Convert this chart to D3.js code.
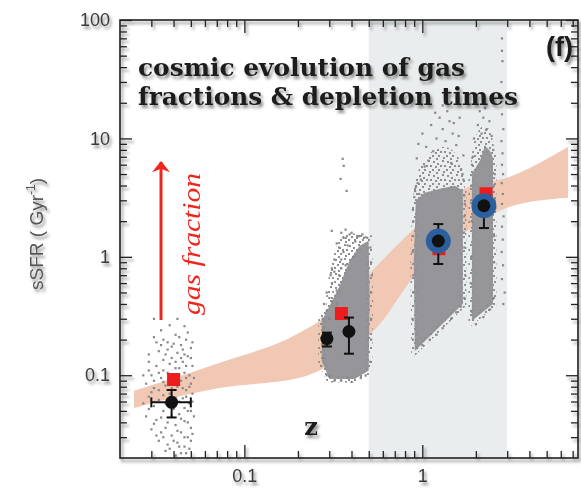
<!DOCTYPE html>
<html>
<head>
<meta charset="utf-8">
<script src="https://cdn.jsdelivr.net/npm/d3@7"></script>
<style>
body { margin: 0; background: #fff; }
</style>
</head>
<body>
<svg></svg>
<script>
// tick values
var xMinorTicks = [0.03,0.04,0.05,0.06,0.07,0.08,0.09,0.2,0.3,0.4,0.5,0.6,0.7,0.8,0.9,2,3,4,5,6,7]
var xMajorTicks = [0.1, 1]
var yMinorTicks = [0.03,0.04,0.05,0.06,0.07,0.08,0.09,0.2,0.3,0.4,0.5,0.6,0.7,0.8,0.9,
                   2,3,4,5,6,7,8,9,20,30,40,50,60,70,80,90]
var yMajorTicks = [0.1, 1, 10, 100]

// shaded redshift window
var shadeRange = [0.5, 3]

// model band (z, upper, lower sSFR)
var bandZ     = [0.024, 0.072, 0.204, 0.343, 0.576, 0.895, 1.73, 3.11, 6.6]
var bandUpper = [0.074, 0.127, 0.228, 0.385, 0.89,  1.72,  3.76, 4.75, 8.5]
var bandLower = [0.053, 0.078, 0.095, 0.137, 0.27,  0.68,  1.6,  2.65, 3.15]

// dense parts of the galaxy clouds [z, sSFR]
var denseClouds = [
    [[0.301,0.385],[0.343,0.569],[0.39,0.925],[0.4445,1.24],[0.4995,1.37],[0.506,0.425],[0.4995,0.109],[0.4165,0.093],[0.301,0.093],[0.272,0.132],[0.272,0.288]],
    [[0.907,0.16],[0.896,0.925],[0.919,2.975],[1.033,3.475],[1.255,3.76],[1.524,3.98],[1.691,3.61],[1.691,0.40]],
    [[1.90,0.288],[1.90,5.03],[2.108,6.48],[2.25,8.68],[2.40,7.87],[2.496,6.87],[2.496,0.40]]
]
var haloClouds = [
    [[0.92,2.9],[0.95,5.33],[1.102,7.5],[1.339,8.5],[1.585,7],[1.70,3.6]],
    [[1.92,4.8],[2.0,10.5],[2.25,13],[2.45,10.5],[2.5,6.8]],
    [[0.29,0.4],[0.31,0.9],[0.36,1.5],[0.45,1.55],[0.5,1.4],[0.4,1.0],[0.33,0.6]]
]

// individual galaxies [z, sSFR]
var galaxies = [
    // local sample
    [0.031,0.21],[0.034,0.24],[0.037,0.19],[0.041,0.22],[0.044,0.18],[0.047,0.2],[0.05,0.17],[0.033,0.16],
    [0.036,0.15],[0.039,0.14],[0.042,0.155],[0.045,0.13],[0.048,0.145],[0.051,0.12],[0.029,0.13],[0.032,0.12],
    [0.035,0.11],[0.038,0.125],[0.043,0.115],[0.046,0.105],[0.049,0.1],[0.03,0.1],[0.034,0.095],[0.04,0.1],
    [0.044,0.09],[0.05,0.085],[0.028,0.085],[0.031,0.078],[0.036,0.082],[0.047,0.075],[0.051,0.07],[0.029,0.066],
    [0.033,0.062],[0.038,0.07],[0.045,0.064],[0.049,0.058],[0.031,0.055],[0.035,0.05],[0.04,0.052],[0.043,0.047],
    [0.048,0.05],[0.052,0.045],[0.028,0.045],[0.032,0.042],[0.037,0.04],[0.041,0.038],[0.046,0.041],[0.05,0.036],
    [0.03,0.035],[0.034,0.033],[0.039,0.031],[0.044,0.033],[0.048,0.03],[0.033,0.028],[0.037,0.026],[0.042,0.027],
    [0.046,0.025],[0.05,0.028],[0.036,0.023],[0.044,0.022],[0.049,0.024],[0.031,0.3],[0.038,0.265],[0.046,0.26],
    [0.039,0.175],[0.035,0.135],[0.041,0.065],[0.027,0.058],[0.052,0.095],[0.046,0.15],[0.042,0.3],[0.027,0.1],
    [0.029,0.15],[0.032,0.19],[0.035,0.2],[0.04,0.185],[0.043,0.21],[0.048,0.23],[0.051,0.19],[0.034,0.18],
    [0.037,0.165],[0.045,0.165],[0.05,0.14],[0.041,0.13],[0.044,0.14],[0.047,0.12],[0.037,0.105],[0.041,0.115],
    [0.033,0.105],[0.029,0.11],[0.047,0.095],[0.043,0.1],[0.035,0.088],[0.038,0.09],[0.031,0.09],[0.049,0.08],
    [0.045,0.078],[0.033,0.075],[0.042,0.08],[0.039,0.078],[0.03,0.072],[0.035,0.068],[0.047,0.066],[0.051,0.06],
    [0.043,0.06],[0.036,0.058],[0.029,0.052],[0.046,0.053],[0.05,0.05],[0.039,0.045],[0.034,0.044],[0.044,0.043],
    [0.031,0.039],[0.048,0.04],[0.036,0.036],[0.042,0.034],[0.051,0.032],[0.032,0.031],[0.046,0.03],[0.04,0.028],
    [0.035,0.03],[0.038,0.024],[0.043,0.025],[0.047,0.022],[0.041,0.021],
    // z ~ 0.3-0.4
    [0.3565,6.74],[0.3612,5.88],[0.3753,3.61],[0.3469,4.56],[0.3093,1.66],[0.3706,1.447],
    [0.33,1.3],[0.36,1.1],[0.38,1.25],[0.41,1.0],[0.35,0.95],[0.37,0.85],[0.32,0.75],[0.34,0.7],[0.31,0.6],
    [0.33,0.52],[0.3,0.45],[0.36,1.45],[0.42,1.35],[0.39,1.55],[0.29,0.35],[0.28,0.25],[0.275,0.18],[0.27,0.12],
    [0.29,0.1],[0.35,0.09],[0.45,0.095],[0.515,0.5],[0.515,0.9],[0.515,0.2],[0.44,1.5],[0.47,1.45],
    [0.275,0.3],[0.28,0.4],[0.285,0.22],[0.29,0.5],[0.3,0.3],[0.31,0.8],[0.32,0.95],[0.34,1.2],[0.35,1.6],
    [0.37,1.7],[0.4,1.6],[0.43,1.45],[0.46,1.55],[0.49,1.45],[0.51,1.2],[0.52,0.7],[0.515,0.3],[0.51,0.13],
    [0.48,0.1],[0.4,0.088],[0.32,0.09],[0.3,0.098],[0.28,0.14],[0.38,0.095],[0.33,0.4],[0.31,0.42],
    [0.305,0.7],[0.35,0.8],
    // z ~ 1-1.6
    [0.95,9],[1.0,11],[1.05,8.5],[1.12,13],[1.2,10],[1.25,15],[1.3,12],[1.35,9.5],[1.42,14],[1.48,11],
    [1.55,8.8],[1.6,10.5],[1.08,6.5],[0.93,6.8],[1.18,16.5],[1.38,17],[1.5,13.5],[0.98,4.5],[0.92,3.9],
    [1.65,5.5],[1.7,7.2],[1.3,19],[1.62,15],[0.89,0.5],[0.88,1.5],[0.885,2.5],[1.72,1.2],[1.72,2.2],
    [1.03,5.8],[1.15,7.8],[1.45,6.2],[0.96,3.4],
    [0.885,0.2],[0.88,0.3],[0.888,0.7],[0.882,1.1],[0.89,2],[0.9,3.2],[0.91,3.6],[0.94,4.2],
    [1.72,0.45],[1.74,0.7],[1.71,1.6],[1.73,2.8],[1.72,3.3],[1.7,4.5],[1.68,5],
    [0.93,0.17],[1.0,0.18],[1.1,0.2],[1.2,0.22],[1.3,0.25],[1.45,0.3],[1.55,0.34],[1.65,0.38],
    // z ~ 2-2.5
    [1.95,10],[2.05,13],[2.15,11],[2.2,15],[2.3,12],[2.38,14],[2.45,10.5],[2.1,17],[2.25,18],[1.92,7],
    [2.5,8],[2.55,5],[2.55,3],[2.53,1.5],[1.88,3],[1.88,1],
    [1.88,0.35],[1.87,0.6],[1.89,2],[1.88,4],[1.9,6],[2.52,0.45],[2.53,0.9],[2.51,2.5],[2.52,4],
    [2.0,0.27],[2.2,0.31],[2.4,0.36],
    [2.8,70],[2.8,55],[2.82,45],[2.78,30],[2.82,22],[2.8,16],[2.85,12],[2.78,9.5],[2.82,7.5],[2.8,6],
    [2.84,5],[2.79,4.2],[2.83,3.4],[2.8,2.8],[2.86,2.2],[2.8,1.8],[2.83,1.4],[2.79,1.1],[2.84,0.85],
    [2.8,0.65],[2.9,0.5],[2.85,0.4]
]

// stacked averages
var redSquares = [
    {z: 0.04,  s: 0.092},
    {z: 0.351, s: 0.332},
    {z: 1.24,  s: 1.17},
    {z: 2.28,  s: 3.41}
]
var blackPoints = [
    {z: 0.039, s: 0.059, lo: 0.044, hi: 0.075, zlo: 0.03, zhi: 0.05},
    {z: 0.291, s: 0.204, lo: 0.175, hi: 0.229},
    {z: 0.387, s: 0.234, lo: 0.152, hi: 0.307}
]
var bluePoints = [
    {z: 1.23, s: 1.36, lo: 0.87, hi: 1.89},
    {z: 2.22, s: 2.7,  lo: 1.75, hi: 3.3}
]

var screen = {width: 581, height: 490}
var margins = {top: 20, bottom: 32, left: 120, right: 3}

var width = screen.width - margins.left - margins.right
var height = screen.height - margins.top - margins.bottom

var svg = d3.select("svg")
    .attr("width", screen.width)
    .attr("height", screen.height)

var defs = svg.append("defs")
defs.append("filter")
    .attr("id", "shadow")
    .attr("x", "-20%").attr("y", "-20%")
    .attr("width", "150%").attr("height", "170%")
    .append("feDropShadow")
    .attr("dx", 2).attr("dy", 3)
    .attr("stdDeviation", 1.8)
    .attr("flood-color", "#000")
    .attr("flood-opacity", 0.45)

// speckle texture for the thinner parts of the clouds
var speckleDots = [[0,0],[5,1],[9,3],[2,5],[7,6],[4,9],[10,9],[1,11],[8,12],[12,5]]
var speckle = defs.append("pattern")
    .attr("id", "speckle")
    .attr("width", 14).attr("height", 14)
    .attr("patternUnits", "userSpaceOnUse")
speckle.selectAll("rect")
    .data(speckleDots)
    .enter()
    .append("rect")
    .attr("x", function(d) { return d[0] })
    .attr("y", function(d) { return d[1] })
    .attr("width", 2)
    .attr("height", 2)
    .attr("fill", "#8f8f92")

var xScale = d3.scaleLog()
    .domain([0.02, 7.5])
    .range([0, width])

var yScale = d3.scaleLog()
    .domain([0.02, 100])
    .range([height, 0])

var plot = svg.append("g")
    .attr("id", "plot")
    .attr("transform", "translate(" + margins.left + "," + margins.top + ")")

// shaded window
plot.append("rect")
    .attr("x", xScale(shadeRange[0]))
    .attr("y", 0)
    .attr("width", xScale(shadeRange[1]) - xScale(shadeRange[0]))
    .attr("height", height)
    .attr("fill", "#eaeded")

// model band
var area = d3.area()
    .x(function(d) { return xScale(d.z) })
    .y0(function(d) { return yScale(d.lo) })
    .y1(function(d) { return yScale(d.hi) })
    .curve(d3.curveMonotoneX)

var bandData = bandZ.map(function(z, i) {
    return {z: z, hi: bandUpper[i], lo: bandLower[i]}
})

plot.append("path")
    .datum(bandData)
    .attr("d", area)
    .attr("fill", "#f1c8b4")

// clouds
var haloLine = d3.line()
    .x(function(d) { return xScale(d[0]) })
    .y(function(d) { return yScale(d[1]) })
    .curve(d3.curveCatmullRomClosed)

var cloudLine = d3.line()
    .x(function(d) { return xScale(d[0]) })
    .y(function(d) { return yScale(d[1]) })
    .curve(d3.curveLinearClosed)

plot.selectAll(".halo")
    .data(haloClouds)
    .enter()
    .append("path")
    .attr("class", "halo")
    .attr("d", haloLine)
    .attr("fill", "url(#speckle)")

plot.selectAll(".dense")
    .data(denseClouds)
    .enter()
    .append("path")
    .attr("class", "dense")
    .attr("d", cloudLine)
    .attr("fill", "#96969a")
    .attr("stroke", "url(#speckle)")
    .attr("stroke-width", 7)

plot.selectAll(".gal")
    .data(galaxies)
    .enter()
    .append("rect")
    .attr("class", "gal")
    .attr("x", function(d) { return xScale(d[0]) - 1 })
    .attr("y", function(d) { return yScale(d[1]) - 1 })
    .attr("width", 2.2)
    .attr("height", 2.2)
    .attr("fill", "#88888a")

// red squares
plot.selectAll(".red")
    .data(redSquares)
    .enter()
    .append("rect")
    .attr("class", "red")
    .attr("x", function(d) { return xScale(d.z) - 6.5 })
    .attr("y", function(d) { return yScale(d.s) - 6.5 })
    .attr("width", 13)
    .attr("height", 13)
    .attr("fill", "#ee1d1d")

// error bars
var drawErrors = function(points)
{
    var g = plot.append("g")
        .attr("stroke", "#111")
        .attr("stroke-width", 2)
    points.forEach(function(d)
    {
        var x = xScale(d.z)
        g.append("line")
            .attr("x1", x).attr("x2", x)
            .attr("y1", yScale(d.lo)).attr("y2", yScale(d.hi))
        g.append("line")
            .attr("x1", x - 5).attr("x2", x + 5)
            .attr("y1", yScale(d.lo)).attr("y2", yScale(d.lo))
        g.append("line")
            .attr("x1", x - 5).attr("x2", x + 5)
            .attr("y1", yScale(d.hi)).attr("y2", yScale(d.hi))
        if (d.zlo)
        {
            var y = yScale(d.s)
            g.append("line")
                .attr("x1", xScale(d.zlo)).attr("x2", xScale(d.zhi))
                .attr("y1", y).attr("y2", y)
            g.append("line")
                .attr("x1", xScale(d.zlo)).attr("x2", xScale(d.zlo))
                .attr("y1", y - 5).attr("y2", y + 5)
            g.append("line")
                .attr("x1", xScale(d.zhi)).attr("x2", xScale(d.zhi))
                .attr("y1", y - 5).attr("y2", y + 5)
        }
    })
}
drawErrors(blackPoints)
drawErrors(bluePoints)

plot.selectAll(".black")
    .data(blackPoints)
    .enter()
    .append("circle")
    .attr("class", "black")
    .attr("cx", function(d) { return xScale(d.z) })
    .attr("cy", function(d) { return yScale(d.s) })
    .attr("r", 6.5)
    .attr("fill", "#111")

plot.selectAll(".blue")
    .data(bluePoints)
    .enter()
    .append("circle")
    .attr("class", "blue")
    .attr("cx", function(d) { return xScale(d.z) })
    .attr("cy", function(d) { return yScale(d.s) })
    .attr("r", 12.5)
    .attr("fill", "#2b5f9e")

plot.selectAll(".bluecore")
    .data(bluePoints)
    .enter()
    .append("circle")
    .attr("class", "bluecore")
    .attr("cx", function(d) { return xScale(d.z) })
    .attr("cy", function(d) { return yScale(d.s) })
    .attr("r", 6.5)
    .attr("fill", "#111")

// axes
var axes = plot.append("g")
    .attr("filter", "url(#shadow)")

var fmt = function(d) { return d >= 1 ? d3.format("d")(d) : String(d) }

axes.append("g")
    .attr("transform", "translate(0," + height + ")")
    .call(d3.axisBottom(xScale).tickValues(xMinorTicks).tickSize(-7).tickFormat(""))
axes.append("g")
    .attr("class", "xlab")
    .attr("transform", "translate(0," + height + ")")
    .call(d3.axisBottom(xScale).tickValues(xMajorTicks).tickSize(-13).tickPadding(11).tickFormat(fmt))
axes.append("g")
    .call(d3.axisTop(xScale).tickValues(xMinorTicks).tickSize(-7).tickFormat(""))
axes.append("g")
    .call(d3.axisTop(xScale).tickValues(xMajorTicks).tickSize(-13).tickFormat(""))
axes.append("g")
    .call(d3.axisLeft(yScale).tickValues(yMinorTicks).tickSize(-7).tickFormat(""))
axes.append("g")
    .attr("class", "ylab")
    .call(d3.axisLeft(yScale).tickValues(yMajorTicks).tickSize(-12).tickPadding(10).tickFormat(fmt))
axes.append("g")
    .attr("transform", "translate(" + width + ",0)")
    .call(d3.axisRight(yScale).tickValues(yMinorTicks).tickSize(-7).tickFormat(""))
axes.append("g")
    .attr("transform", "translate(" + width + ",0)")
    .call(d3.axisRight(yScale).tickValues(yMajorTicks).tickSize(-12).tickFormat(""))

axes.selectAll(".domain").remove()
axes.selectAll(".tick line")
    .attr("stroke", "#222")
    .attr("stroke-width", 1.3)
axes.selectAll(".tick text")
    .attr("font-family", "Liberation Sans, Arial, sans-serif")
    .attr("font-size", 18)
    .attr("fill", "#3a3a3a")

axes.append("rect")
    .attr("x", 0).attr("y", 0)
    .attr("width", width).attr("height", height)
    .attr("fill", "none")
    .attr("stroke", "#222")
    .attr("stroke-width", 1.6)

// labels
var labels = svg.append("g")
    .attr("filter", "url(#shadow)")

labels.append("text")
    .attr("x", 138).attr("y", 76)
    .attr("font-family", "DejaVu Serif, serif")
    .attr("font-weight", "bold")
    .attr("font-size", 25)
    .attr("textLength", 327)
    .attr("lengthAdjust", "spacingAndGlyphs")
    .attr("fill", "#1a1a1a")
    .text("cosmic evolution of gas")

labels.append("text")
    .attr("x", 138).attr("y", 105)
    .attr("font-family", "DejaVu Serif, serif")
    .attr("font-weight", "bold")
    .attr("font-size", 25)
    .attr("textLength", 380)
    .attr("lengthAdjust", "spacingAndGlyphs")
    .attr("fill", "#1a1a1a")
    .text("fractions & depletion times")

labels.append("text")
    .attr("x", 573).attr("y", 56)
    .attr("text-anchor", "end")
    .attr("font-family", "Liberation Sans, Arial, sans-serif")
    .attr("font-weight", "bold")
    .attr("font-size", 27)
    .attr("fill", "#1a1a1a")
    .text("(f)")

labels.append("text")
    .attr("x", 311).attr("y", 435)
    .attr("text-anchor", "middle")
    .attr("font-family", "DejaVu Serif, serif")
    .attr("font-weight", "bold")
    .attr("font-size", 24)
    .attr("fill", "#1a1a1a")
    .text("z")

var ylab = labels.append("text")
    .attr("transform", "translate(43,234) rotate(-90)")
    .attr("text-anchor", "middle")
    .attr("font-family", "Liberation Sans, Arial, sans-serif")
    .attr("font-size", 19)
    .attr("fill", "#555")
ylab.append("tspan").text("sSFR ( Gyr")
ylab.append("tspan").attr("font-size", 12).attr("dy", -8).text("-1")
ylab.append("tspan").attr("dy", 8).text(")")

// gas fraction arrow
defs.append("marker")
    .attr("id", "head")
    .attr("viewBox", "0 0 10 16")
    .attr("refX", 9).attr("refY", 8)
    .attr("markerWidth", 9).attr("markerHeight", 6)
    .attr("markerUnits", "strokeWidth")
    .attr("orient", "auto")
    .append("path")
    .attr("d", "M0,0 L10,8 L0,16 L3,8 Z")
    .attr("fill", "#f0261c")

svg.append("line")
    .attr("x1", 161).attr("x2", 161)
    .attr("y1", 320).attr("y2", 162)
    .attr("stroke", "#f0261c")
    .attr("stroke-width", 3)
    .attr("marker-end", "url(#head)")

svg.append("text")
    .attr("transform", "translate(200,315) rotate(-90)")
    .attr("font-family", "Liberation Serif, serif")
    .attr("font-style", "italic")
    .attr("font-size", 26)
    .attr("textLength", 142)
    .attr("lengthAdjust", "spacingAndGlyphs")
    .attr("fill", "#f0261c")
    .text("gas fraction")
</script>
</body>
</html>
